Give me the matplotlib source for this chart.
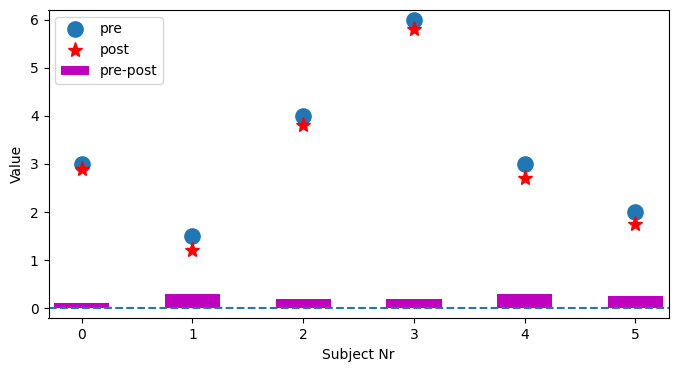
import matplotlib.pyplot as plt

subjects = [0, 1, 2, 3, 4, 5]
pre = [3, 1.5, 4, 6, 3, 2]
post = [2.9, 1.2, 3.8, 5.8, 2.7, 1.75]
diff = [a - b for a, b in zip(pre, post)]

fig = plt.figure(figsize=(6.78, 3.71), dpi=100)
ax = fig.add_axes([48.5 / 678, 52.7 / 371, 620.2 / 678, 308.3 / 371])

ax.plot(subjects, pre, 'o', markersize=11, label='pre')
ax.plot(subjects, post, 'r*', markersize=11, label='post')
ax.bar(subjects, diff, width=0.5, color='m', label='pre-post')
ax.axhline(0, ls='--')

ax.set_xlim(-0.3, 5.3)
ax.set_ylim(-0.21, 6.2)
ax.set_xlabel('Subject Nr')
ax.set_ylabel('Value')
ax.legend(loc='upper left')

fig.savefig('out.png', dpi=100)
